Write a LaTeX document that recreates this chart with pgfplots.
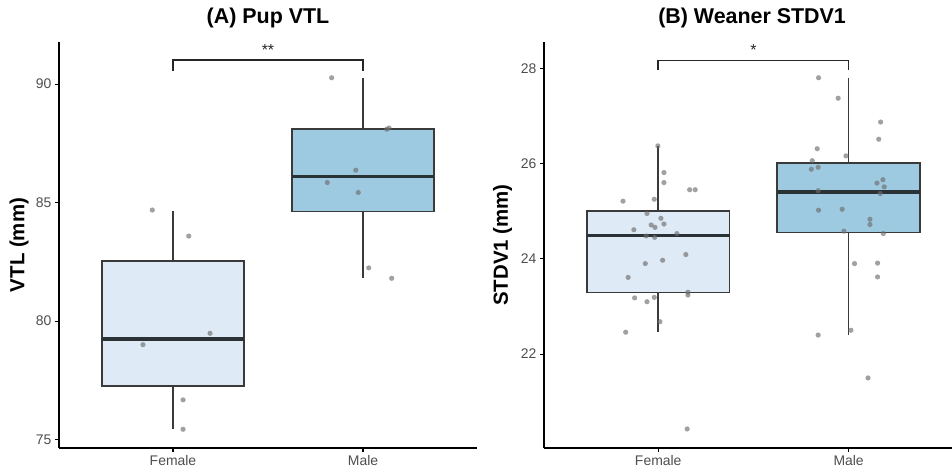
\documentclass[border=0pt]{standalone}
\usepackage{fontspec}
\setmainfont{Liberation Sans}
\usepackage{pgfplots}
\pgfplotsset{compat=1.18}
\usepgfplotslibrary{statistics}

\definecolor{fem}{HTML}{DEEBF7}
\definecolor{mal}{HTML}{9ECAE1}
\definecolor{boxline}{HTML}{3A3A3A}
\definecolor{medline}{HTML}{2B3236}
\definecolor{tickgray}{HTML}{4D4D4D}
\definecolor{ptgray}{HTML}{6E6E6E}

\pgfplotsset{
  mystyle/.style={
    scale only axis,
    axis x line=bottom, axis y line=left,
    axis line style={-, line width=1.5bp, black},
    tick align=outside,
    major tick length=4bp,
    tick style={line width=1.2bp, black},
    xtick={1,2}, xticklabels={Female,Male},
    ticklabel style={font=\fontsize{14}{16}\selectfont, text=tickgray},
    /pgf/number format/assume math mode=true,
    xmin=0.4,
    clip=false,
    boxplot/draw direction=y,
    height=406bp,
  },
  mybox/.style={line width=1.7bp, draw=boxline,
    boxplot/every median/.style={line width=3.2bp, draw=medline}},
  mypts/.style={only marks, mark=*, mark size=2.6bp, color=ptgray,
    mark options={solid, fill=ptgray, draw=ptgray, draw opacity=0, fill opacity=0.65}},
}

\begin{document}
\begin{tikzpicture}
\useasboundingbox (0,0) rectangle (952bp,472bp);

% ---------------- Panel A ----------------
\begin{axis}[mystyle,
  at={(59bp,24bp)}, anchor=south west,
  width=418bp, xmax=2.6,
  ymin=74.65, ymax=91.78, ytick={75,80,85,90},
  ylabel={VTL (mm)},
  ylabel style={at={(axis description cs:-0.0957,0.5)}, anchor=center,
    font=\bfseries\fontsize{20.5}{24}\selectfont},
  title={(A) Pup VTL},
  title style={at={(axis description cs:0.5,1.0296)}, anchor=base,
    font=\bfseries\fontsize{21.5}{24}\selectfont},
]
\addplot[mybox, fill=fem, boxplot prepared={draw position=1,
  lower whisker=75.44, lower quartile=77.26, median=79.25,
  upper quartile=82.54, upper whisker=84.65,
  box extend=0.75, whisker extend=0}] coordinates {};
\addplot[mybox, fill=mal, boxplot prepared={draw position=2,
  lower whisker=81.81, lower quartile=84.63, median=86.11,
  upper quartile=88.11, upper whisker=90.27,
  box extend=0.75, whisker extend=0}] coordinates {};
\addplot[mypts] coordinates {
  (0.891,84.69) (1.083,83.59) (1.195,79.49) (0.842,79.01) (1.053,76.68) (1.053,75.44)
};
\addplot[mypts] coordinates {
  (1.835,90.27) (2.125,88.10) (2.137,88.15) (1.962,86.37) (1.812,85.85)
  (1.975,85.43) (2.030,82.25) (2.151,81.81)
};
\addplot[line width=1.5bp, black!85] coordinates {(1,90.56) (1,91.01) (2,91.01) (2,90.56)};
\node[anchor=base, font=\fontsize{16}{18}\selectfont, text=black!85] at (axis cs:1.5,91.23) {**};
\end{axis}

% ---------------- Panel B ----------------
\begin{axis}[mystyle,
  at={(544bp,24bp)}, anchor=south west,
  width=408bp, xmax=2.543,
  ymin=20.03, ymax=28.55, ytick={22,24,26,28},
  ylabel={STDV1 (mm)},
  ylabel style={at={(axis description cs:-0.1017,0.5)}, anchor=center,
    font=\bfseries\fontsize{20.5}{24}\selectfont},
  title={(B) Weaner STDV1},
  title style={at={(axis description cs:0.51,1.0296)}, anchor=base,
    font=\bfseries\fontsize{21.5}{24}\selectfont},
]
\addplot[mybox, fill=fem, boxplot prepared={draw position=1,
  lower whisker=22.46, lower quartile=23.29, median=24.49,
  upper quartile=25.01, upper whisker=26.37,
  box extend=0.75, whisker extend=0}] coordinates {};
\addplot[mybox, fill=mal, boxplot prepared={draw position=2,
  lower whisker=22.40, lower quartile=24.55, median=25.40,
  upper quartile=26.01, upper whisker=27.80,
  box extend=0.75, whisker extend=0}] coordinates {};
\addplot[mypts] coordinates {
  (0.998,26.37) (1.030,25.81) (1.030,25.60) (1.165,25.45) (1.194,25.45)
  (0.815,25.21) (0.979,25.25) (0.941,24.95) (1.014,24.85) (0.963,24.71)
  (0.983,24.66) (1.030,24.73) (0.872,24.61) (0.937,24.48) (0.981,24.45)
  (1.098,24.53) (1.145,24.09) (1.023,23.97) (0.932,23.90) (0.842,23.61)
  (1.156,23.30) (1.156,23.24) (0.876,23.18) (0.941,23.10) (0.979,23.19)
  (1.009,22.68) (0.829,22.46) (1.152,20.43)
};
\addplot[mypts] coordinates {
  (1.842,27.80) (1.945,27.37) (2.168,26.87) (2.158,26.51) (1.835,26.31)
  (1.986,26.16) (1.809,26.06) (1.804,25.88) (1.840,25.92) (2.180,25.66)
  (2.149,25.59) (2.187,25.51) (1.840,25.43) (2.166,25.37) (1.842,25.02)
  (1.966,25.04) (2.112,24.83) (2.112,24.72) (1.975,24.58) (2.182,24.53)
  (2.031,23.90) (2.152,23.91) (2.152,23.62) (1.840,22.40) (2.012,22.50)
  (2.102,21.50)
};
\addplot[line width=1.5bp, black!85] coordinates {(1,27.96) (1,28.16) (2,28.16) (2,27.96)};
\node[anchor=base, font=\fontsize{16}{18}\selectfont, text=black!85] at (axis cs:1.5,28.27) {*};
\end{axis}
\end{tikzpicture}
\end{document}
